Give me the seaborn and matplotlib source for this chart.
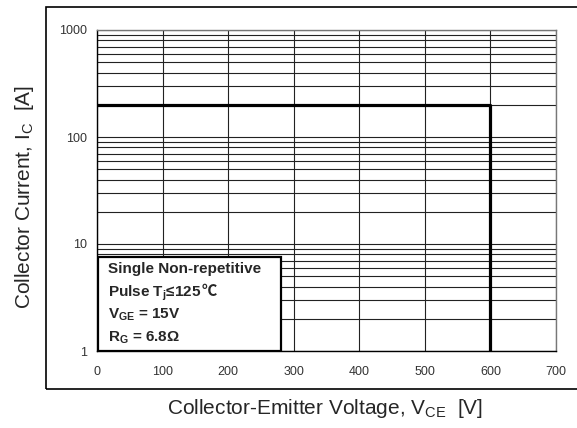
import matplotlib
matplotlib.use("Agg")
import matplotlib.pyplot as plt
import seaborn as sns
import pandas as pd
from matplotlib.patches import Rectangle
from matplotlib.ticker import LogLocator, FixedLocator, NullFormatter

# Data
soa_voltage = [0, 600, 600]
soa_current = [200, 200, 1]
x_ticks = [0, 100, 200, 300, 400, 500, 600, 700]
y_ticks = [1, 10, 100, 1000]
y_tick_labels = ["1", "10", "100", "1000"]
box_lines = ["Single Non-repetitive",
             r"Pulse T$_{\mathbf{j}}$≤125",
             r"V$_{\mathbf{GE}}$ = 15V",
             r"R$_{\mathbf{G}}$ = 6.8Ω"]

sns.set_theme(style="white")
plt.rcParams['font.family'] = ['Liberation Sans', 'DejaVu Sans']
plt.rcParams['mathtext.fontset'] = 'custom'
plt.rcParams['mathtext.rm'] = 'Liberation Sans'
plt.rcParams['mathtext.bf'] = 'Liberation Sans:bold'
plt.rcParams['mathtext.it'] = 'Liberation Sans:italic'

fig = plt.figure(figsize=(5.77, 4.28), dpi=100)
ax = fig.add_axes([97/577, 1-351/428, 459/577, 321/428])

df = pd.DataFrame({"V": soa_voltage, "I": soa_current})
sns.lineplot(data=df, x="V", y="I", sort=False, estimator=None, color="black",
             linewidth=2.3, ax=ax, zorder=5)

ax.set_yscale("log")
ax.set_xlim(0, 700)
ax.set_ylim(1, 1000)
ax.xaxis.set_major_locator(FixedLocator(x_ticks))
ax.set_xticklabels([str(t) for t in x_ticks])
ax.yaxis.set_major_locator(FixedLocator(y_ticks))
ax.set_yticklabels(y_tick_labels)
ax.yaxis.set_minor_locator(LogLocator(base=10, subs=range(2, 10)))
ax.yaxis.set_minor_formatter(NullFormatter())
ax.grid(True, which="both", axis="y", color="#222222", linewidth=0.8)
ax.grid(True, which="major", axis="x", color="#222222", linewidth=0.8)
ax.set_axisbelow(True)
ax.tick_params(axis="both", which="both", length=0, labelsize=9, labelcolor="#333333")
ax.tick_params(axis="y", pad=7)
ax.tick_params(axis="x", pad=11)
for s in ["left", "bottom"]:
    ax.spines[s].set_color("black")
    ax.spines[s].set_linewidth(1.0)
for s in ["right", "top"]:
    ax.spines[s].set_color("#777777")
    ax.spines[s].set_linewidth(1.0)

ax.set_xlabel(r"Collector-Emitter Voltage, V$_{\mathregular{CE}}$  [V]", fontsize=15)
ax.set_ylabel(r"Collector Current, I$_{\mathregular{C}}$  [A]", fontsize=15)
ax.xaxis.set_label_coords(0.497, (351-408)/321, transform=ax.transAxes)
ax.yaxis.set_label_coords((25-97)/459, (351-197)/321, transform=ax.transAxes)
ax.xaxis.label.set_va("center")
ax.yaxis.label.set_va("center")

# text box
ax.add_patch(Rectangle((0.0015, 0.0), 0.4, 0.293, transform=ax.transAxes,
                       facecolor="white", edgecolor="black", linewidth=1.6, zorder=6))
texts = []
for txt, yy in zip(box_lines, [0.243, 0.171, 0.100, 0.028]):
    t = ax.text(0.024, yy, txt, transform=ax.transAxes, fontsize=11, fontweight="bold",
                va="baseline", ha="left", zorder=7)
    texts.append(t)
fig.canvas.draw()
bb = texts[1].get_window_extent()
x_end = ax.transAxes.inverted().transform((bb.x1, bb.y0))[0]
ax.text(x_end, 0.171, "℃", transform=ax.transAxes, fontsize=11, fontweight="bold",
        family=['Noto Sans CJK SC', 'DejaVu Sans'], va="baseline", ha="left", zorder=7)

# outer frame
fig.patches.append(Rectangle((46/577, 1-389/428), 1.0, (389-7)/428, transform=fig.transFigure,
                             facecolor="none", edgecolor="black", linewidth=1.2))

fig.savefig("out.png", dpi=100)
